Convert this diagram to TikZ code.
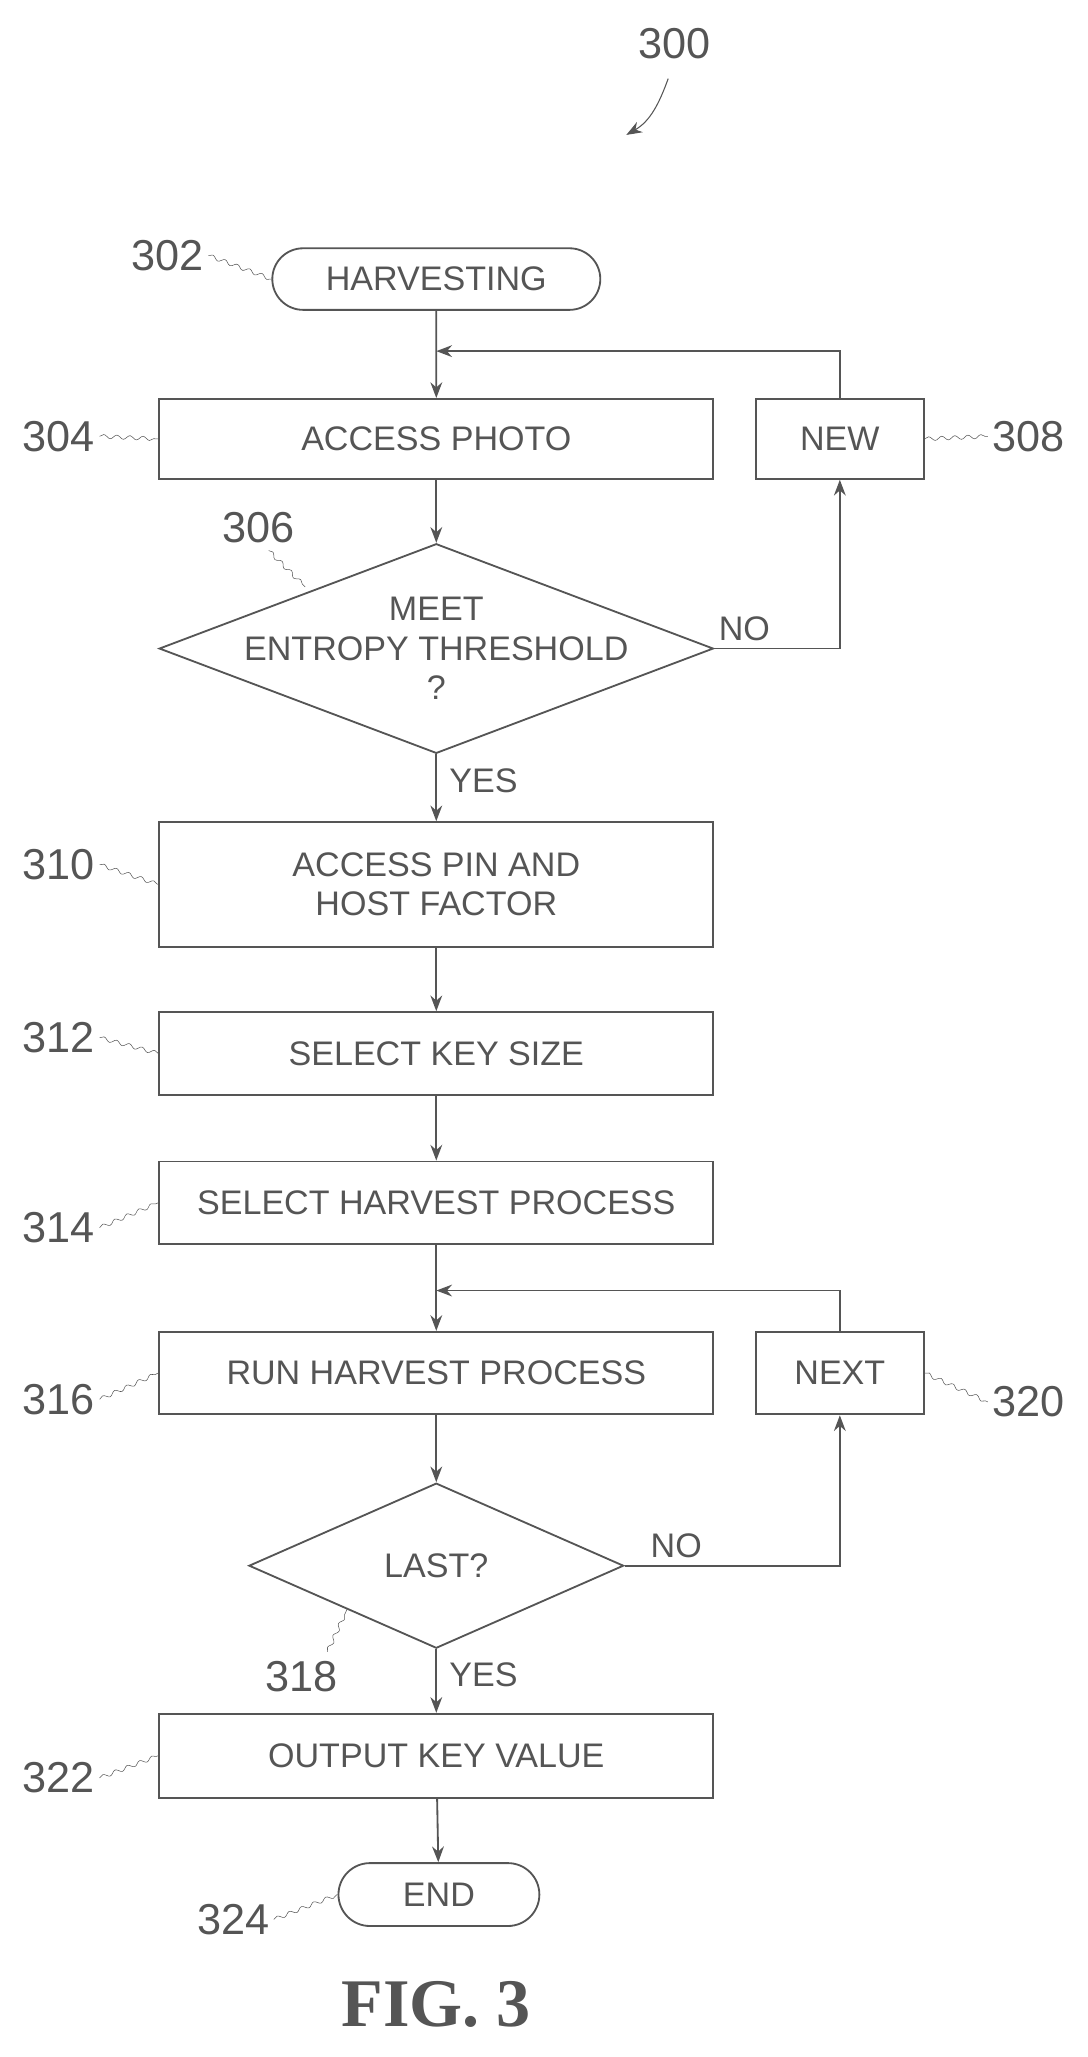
\documentclass[tikz,border=0pt]{standalone}
\usepackage{fontspec}
\setmainfont{Liberation Sans}
\newfontfamily\figfont{Liberation Serif}
\usetikzlibrary{arrows.meta,shapes.geometric,shapes.misc,decorations.pathmorphing}
\definecolor{ink}{HTML}{555555}
\begin{document}
\begin{tikzpicture}[x=1pt,y=-1pt,
    every node/.style={font=\fontsize{26}{30}\selectfont,text=ink},
    box/.style={draw=ink,line width=1.4pt,rectangle,minimum height=61pt,align=center,inner sep=2pt},
    term/.style={draw=ink,line width=1.4pt,rounded rectangle,minimum height=47pt},
    dec/.style={draw=ink,line width=1.4pt,diamond,aspect=2.6,inner xsep=-70pt,inner ysep=-25pt,align=center},
    flow/.style={draw=ink,line width=1.4pt,-{Stealth[length=12pt,width=9pt]}},
    ref/.style={font=\fontsize{33}{36}\selectfont},
    tag/.style={draw=ink,thin,decorate,decoration={snake,amplitude=1.5pt,segment length=10pt}}]
  \useasboundingbox (0,0) rectangle (830,1570);
  % nodes
  \node[term,minimum width=257pt] (start) at (333,213) {HARVESTING};
  \node[box,minimum width=423pt] (photo) at (333,335) {ACCESS PHOTO};
  \node[box,minimum width=128pt] (new) at (641,335) {NEW};
  \node[dec,minimum width=423pt,minimum height=160pt] (entropy) at (333,495) {MEET\\ENTROPY THRESHOLD\\?};
  \node[box,minimum width=423pt,minimum height=95pt] (pin) at (333,675) {ACCESS PIN AND\\HOST FACTOR};
  \node[box,minimum width=423pt,minimum height=63pt] (size) at (333,804) {SELECT KEY SIZE};
  \node[box,minimum width=423pt,minimum height=63pt] (select) at (333,918) {SELECT HARVEST PROCESS};
  \node[box,minimum width=423pt,minimum height=63pt] (run) at (333,1048) {RUN HARVEST PROCESS};
  \node[box,minimum width=128pt,minimum height=63pt] (next) at (641,1048) {NEXT};
  \node[dec,minimum width=286pt,minimum height=126pt] (last) at (333,1195) {LAST?};
  \node[box,minimum width=423pt,minimum height=64pt] (output) at (333,1340) {OUTPUT KEY VALUE};
  \node[term,minimum width=160pt,minimum height=48pt] (end) at (335,1446) {END};
  \node[font=\fontsize{52}{56}\selectfont\bfseries\figfont] (fig) at (333,1530) {FIG. 3};
  % reference numerals
  \node[ref] (n300) at (515,33) {300};
  \node[ref] (n302) at (128,195) {302};
  \node[ref] (n304) at (45,333) {304};
  \node[ref] (n306) at (197,403) {306};
  \node[ref] (n308) at (785,333) {308};
  \node[ref] (n310) at (45,660) {310};
  \node[ref] (n312) at (45,792) {312};
  \node[ref] (n314) at (45,937) {314};
  \node[ref] (n316) at (45,1068) {316};
  \node[ref] (n320) at (785,1070) {320};
  \node[ref] (n318) at (230,1280) {318};
  \node[ref] (n322) at (45,1357) {322};
  \node[ref] (n324) at (178,1465) {324};
  % connectors
  \draw[flow] (start) -- (photo);
  \draw[flow] (photo) -- (entropy);
  \draw[flow] (entropy) -- node[right=6pt,pos=0.4] {YES} (pin);
  \draw[flow] (pin) -- (size);
  \draw[flow] (size) -- (select);
  \draw[flow] (select) -- (run);
  \draw[flow] (run) -- (last);
  \draw[flow] (last) -- node[right=6pt,pos=0.4] {YES} (output);
  \draw[flow] (output) -- (end);
  \draw[flow] (entropy.east) -| node[pos=0.12,above=2pt] {NO} (new.south);
  \draw[flow] (new.north) |- (333,268);
  \draw[flow] (last.east) -| node[pos=0.12,above=2pt] {NO} (next.south);
  \draw[flow] (next.north) |- (333,985);
  % leader lines
  \draw[draw=ink,thick,-{Stealth[length=12pt,width=9pt]}] (510,60) to[out=-110,in=30] (478,103);
  \draw[tag] (n302.east) -- (start.west);
  \draw[tag] (n304.east) -- (photo.west);
  \draw[tag] (n306.south) ++(8,2) -- (233,448);
  \draw[tag] (new.east) -- (n308.west);
  \draw[tag] (n310.east) -- (pin.west);
  \draw[tag] (n312.east) -- (size.west);
  \draw[tag] (n314.east) -- (select.west);
  \draw[tag] (n316.east) -- (run.west);
  \draw[tag] (next.east) -- (n320.west);
  \draw[tag] (n318.north) ++(20,-4) -- (265,1228);
  \draw[tag] (n322.east) -- (output.west);
  \draw[tag] (n324.east) -- (end.west);
\end{tikzpicture}
\end{document}
